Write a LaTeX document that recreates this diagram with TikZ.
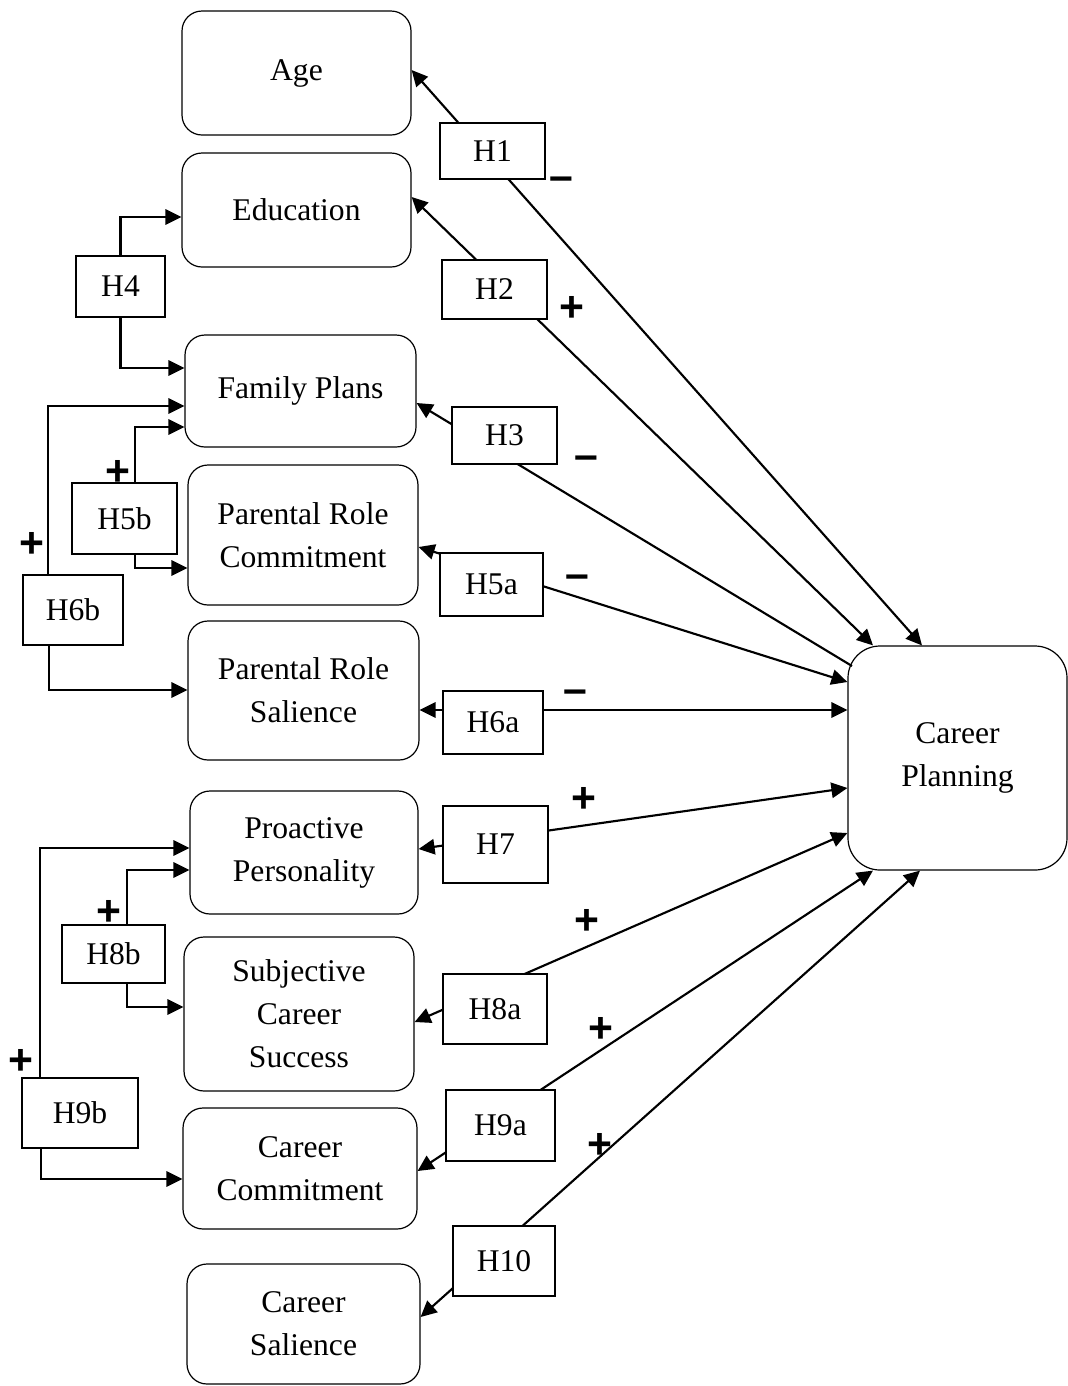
\documentclass[tikz,border=0pt]{standalone}
\usepackage{fontspec}
\setmainfont{Liberation Serif}
\newfontfamily\signfont{Liberation Sans}
\usetikzlibrary{arrows.meta}
\begin{document}
\begin{tikzpicture}[x=0.75pt,y=-0.75pt,
  every node/.style={font=\fontsize{23.7pt}{32.25pt}\selectfont},
  sz/.style 2 args={minimum width=#1*0.75pt, minimum height=#2*0.75pt},
  mainbox/.style={draw, rounded corners=15pt, inner sep=0pt, align=center, line width=0.9pt},
  hbox/.style={draw, fill=white, inner sep=0pt, line width=0.9pt},
  arr/.style={-{Triangle[length=12pt,width=11.5pt]}, line width=1.6pt},
  darr/.style={{Triangle[length=12pt,width=11.5pt]}-{Triangle[length=12pt,width=11.5pt]}, line width=1.6pt},
  sign/.style={font=\signfont\bfseries\fontsize{32pt}{32pt}\selectfont, inner sep=0pt}]
\useasboundingbox (0,0) rectangle (1068,1386);

% main constructs
\node[mainbox, sz={229}{124}] (age) at (296.5,73) {Age};
\node[mainbox, sz={229}{114}] (edu) at (296.5,210) {Education};
\node[mainbox, sz={231}{112}] (fam) at (300.5,391) {Family Plans};
\node[mainbox, sz={230}{140}] (prc) at (303,535) {Parental Role\\Commitment};
\node[mainbox, sz={231}{139}] (prs) at (303.5,690.5) {Parental Role\\Salience};
\node[mainbox, sz={228}{123}] (pp) at (304,852.5) {Proactive\\Personality};
\node[mainbox, sz={230}{154}] (scs) at (299,1014) {Subjective\\Career\\Success};
\node[mainbox, sz={234}{121}] (cc) at (300,1168.5) {Career\\Commitment};
\node[mainbox, sz={233}{120}] (cs) at (303.5,1324) {Career\\Salience};
\node[mainbox, rounded corners=24pt, sz={219}{224}] (cp) at (957.5,758) {Career\\Planning};

% straight hypothesis paths (under the label boxes)
\coordinate (h3end) at (852,666);
\draw[darr] (age.east |- 0,70) -- (cp.north -| 922,0);
\draw[darr] (edu.east |- 0,197) -- (cp.north -| 873,0);
\draw[arr] (h3end) -- (fam.east |- 0,403);
\draw[darr] (prc.east |- 0,547) -- (cp.west |- 0,682);
\draw[darr] (prs.east |- 0,710) -- (cp.west |- 0,710);
\draw[darr] (pp.east |- 0,849) -- (cp.west |- 0,788);
\draw[darr] (scs.east |- 0,1022) -- (cp.west |- 0,833);
\draw[darr] (cc.east |- 0,1171) -- (cp.south -| 873,0);
\draw[darr] (cs.east |- 0,1317) -- (cp.south -| 920,0);

% hypothesis labels
\node[hbox, sz={105}{56}] (h1) at (492.5,151) {H1};
\node[hbox, sz={105}{59}] (h2) at (494.5,289.5) {H2};
\node[hbox, sz={105}{57}] (h3) at (504.5,435.5) {H3};
\node[hbox, sz={89}{61}] (h4) at (120.5,286.5) {H4};
\node[hbox, sz={103}{63}] (h5a) at (491.5,584.5) {H5a};
\node[hbox, sz={105}{71}] (h5b) at (124.5,518.5) {H5b};
\node[hbox, sz={100}{63}] (h6a) at (493,722.5) {H6a};
\node[hbox, sz={100}{70}] (h6b) at (73,610) {H6b};
\node[hbox, sz={105}{77}] (h7) at (495.5,844.5) {H7};
\node[hbox, sz={104}{70}] (h8a) at (495,1009) {H8a};
\node[hbox, sz={103}{58}] (h8b) at (113.5,954) {H8b};
\node[hbox, sz={109}{71}] (h9a) at (500.5,1125.5) {H9a};
\node[hbox, sz={116}{70}] (h9b) at (80,1113) {H9b};
\node[hbox, sz={102}{70}] (h10) at (504,1261) {H10};

% left-side elbow connectors
\draw[arr] (h4.north) |- (edu.west |- 0,217);
\draw[arr] (h4.south) |- (fam.west |- 0,368);
\draw[arr] (h6b.north -| 48,0) |- (fam.west |- 0,406);
\draw[arr] (h6b.south -| 49,0) |- (prs.west |- 0,690);
\draw[arr] (h5b.north -| 135,0) |- (fam.west |- 0,427);
\draw[arr] (h5b.south -| 135,0) |- (prc.west |- 0,568);
\draw[arr] (h8b.north -| 127,0) |- (pp.west |- 0,870);
\draw[arr] (h8b.south -| 127,0) |- (scs.west |- 0,1007);
\draw[arr] (h9b.north -| 40,0) |- (pp.west |- 0,848);
\draw[arr] (h9b.south -| 41,0) |- (cc.west |- 0,1179);

% signs
\node[sign] (s1) at (561.5,184) {–};
\node[sign] (s2) at (571.5,309) {+};
\node[sign] (s3) at (586,463) {–};
\node[sign] (s5a) at (577,582) {–};
\node[sign] (s6a) at (575,697) {–};
\node[sign] (s7) at (584,800) {+};
\node[sign] (s8a) at (586.5,922) {+};
\node[sign] (s9a) at (601,1030) {+};
\node[sign] (s10) at (600,1145.5) {+};
\node[sign] (s5b) at (118,473) {+};
\node[sign] (s6b) at (32,545) {+};
\node[sign] (s8b) at (108.5,913) {+};
\node[sign] (s9b) at (21,1062) {+};
\end{tikzpicture}
\end{document}
